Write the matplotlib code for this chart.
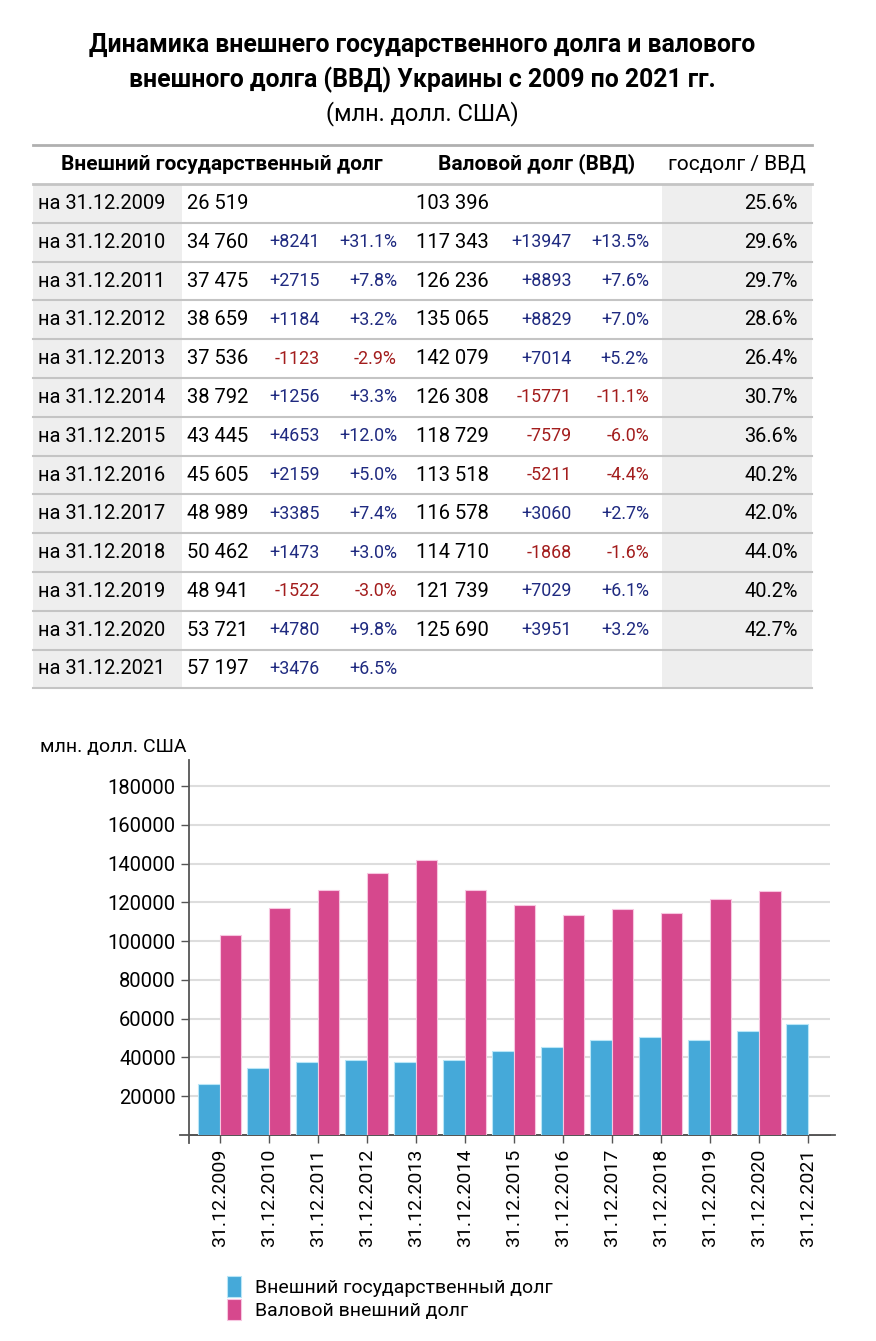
import matplotlib.pyplot as plt
from matplotlib.patches import Rectangle
import numpy as np

plt.rcParams['font.family'] = ['Roboto', 'DejaVu Sans']

dates = ["31.12.2009", "31.12.2010", "31.12.2011", "31.12.2012", "31.12.2013",
         "31.12.2014", "31.12.2015", "31.12.2016", "31.12.2017", "31.12.2018",
         "31.12.2019", "31.12.2020", "31.12.2021"]
gov_debt = [26519, 34760, 37475, 38659, 37536, 38792, 43445, 45605, 48989,
            50462, 48941, 53721, 57197]
gov_change = [None, 8241, 2715, 1184, -1123, 1256, 4653, 2159, 3385, 1473,
              -1522, 4780, 3476]
gov_change_pct = [None, 31.1, 7.8, 3.2, -2.9, 3.3, 12.0, 5.0, 7.4, 3.0,
                  -3.0, 9.8, 6.5]
gross_debt = [103396, 117343, 126236, 135065, 142079, 126308, 118729, 113518,
              116578, 114710, 121739, 125690, None]
gross_change = [None, 13947, 8893, 8829, 7014, -15771, -7579, -5211, 3060,
                -1868, 7029, 3951, None]
gross_change_pct = [None, 13.5, 7.6, 7.0, 5.2, -11.1, -6.0, -4.4, 2.7, -1.6,
                    6.1, 3.2, None]
ratio = [25.6, 29.6, 29.7, 28.6, 26.4, 30.7, 36.6, 40.2, 42.0, 44.0, 40.2,
         42.7, None]

blue = "#45a9d9"
pink = "#d6488d"
pos_col = "#1f2a80"
neg_col = "#a31d1d"

W, H = 876, 1341
fig = plt.figure(figsize=(W / 100, H / 100), dpi=100)

# overlay in pixel coords for title and table
bg = fig.add_axes([0, 0, 1, 1])
bg.set_xlim(0, W)
bg.set_ylim(H, 0)
bg.axis("off")

bg.text(422, 45, "Динамика внешнего государственного долга и валового",
        ha="center", va="center", fontsize=17.8, fontweight="bold")
bg.text(422, 80, "внешного долга (ВВД) Украины с 2009 по 2021 гг.",
        ha="center", va="center", fontsize=17.8, fontweight="bold")
bg.text(422, 114, "(млн. долл. США)", ha="center", va="center", fontsize=17)

# table
x0, x1 = 33, 812
row_top = 184
row_h = 38.8
n = len(dates)

bg.plot([x0, x1], [145, 145], color="#b0b0b0", lw=2)
bg.text(222, 164, "Внешний государственный долг", ha="center", va="center",
        fontsize=15, fontweight="bold")
bg.text(537, 164, "Валовой долг (ВВД)", ha="center", va="center",
        fontsize=15, fontweight="bold")
bg.text(737, 164, "госдолг / ВВД", ha="center", va="center", fontsize=15)

for i in range(n):
    top = row_top + i * row_h
    yc = top + row_h / 2
    bg.add_patch(Rectangle((x0, top), 182 - x0, row_h, color="#eeeeee", lw=0))
    bg.add_patch(Rectangle((662, top), x1 - 662, row_h, color="#eeeeee", lw=0))
    bg.text(38, yc, "на " + dates[i], ha="left", va="center", fontsize=14.4)
    bg.text(187, yc, f"{gov_debt[i]:,}".replace(",", " "), ha="left",
            va="center", fontsize=14.5)
    if gov_change[i] is not None:
        c = pos_col if gov_change[i] > 0 else neg_col
        bg.text(320, yc, f"{gov_change[i]:+d}", ha="right", va="center",
                fontsize=12.9, color=c)
        bg.text(397, yc, f"{gov_change_pct[i]:+.1f}%", ha="right",
                va="center", fontsize=12.9, color=c)
    if gross_debt[i] is not None:
        bg.text(416, yc, f"{gross_debt[i]:,}".replace(",", " "), ha="left",
                va="center", fontsize=14.5)
    if gross_change[i] is not None:
        c = pos_col if gross_change[i] > 0 else neg_col
        bg.text(572, yc, f"{gross_change[i]:+d}", ha="right", va="center",
                fontsize=12.9, color=c)
        bg.text(649, yc, f"{gross_change_pct[i]:+.1f}%", ha="right",
                va="center", fontsize=12.9, color=c)
    if ratio[i] is not None:
        bg.text(798, yc, f"{ratio[i]:.1f}%", ha="right", va="center",
                fontsize=14.4)

for i in range(n + 1):
    y = row_top + i * row_h
    lw = 2 if i == 0 else 1.5
    bg.plot([x0, x1], [y, y], color="#c4c4c4", lw=lw)

# bar chart
ax = fig.add_axes([189 / W, 1 - 1135 / H, (830 - 189) / W, (1135 - 760) / H])
x = np.arange(n)
w = 0.44
gross_vals = [v if v is not None else 0 for v in gross_debt]
ax.bar(x - w / 2, gov_debt, w, color=blue, edgecolor="#b9e6f7", lw=0.8,
       label="Внешний государственный долг", zorder=3)
ax.bar(x + w / 2, gross_vals, w, color=pink, edgecolor="#f7c6e0", lw=0.8,
       label="Валовой внешний долг", zorder=3)

ax.set_xlim(-0.63, 12.45)
ax.set_ylim(0, 193500)
ax.set_yticks(range(20000, 180001, 20000))
ax.set_yticklabels([str(v) for v in range(20000, 180001, 20000)],
                   fontsize=14.5)
ax.set_xticks(x)
ax.set_xticklabels(dates, rotation=90, fontsize=14)
ax.yaxis.grid(True, color="#dddddd", lw=1.5, zorder=0)
for s in ["top", "right"]:
    ax.spines[s].set_visible(False)
ax.spines["left"].set_color("#555555")
ax.spines["bottom"].set_color("#555555")
ax.spines["left"].set_linewidth(1.3)
ax.spines["bottom"].set_linewidth(1.3)
ax.tick_params(axis="both", color="#555555", length=6, width=1)
ax.tick_params(axis="x", pad=4)
ax.plot([-0.014, 1.008], [0, 0], transform=ax.transAxes, color="#555555",
        lw=1.3, clip_on=False)
ax.plot([0, 0], [0, -0.02], transform=ax.transAxes, color="#555555",
        lw=1.3, clip_on=False)

fig.text(40 / W, 1 - 747 / H, "млн. долл. США", ha="left", va="center",
         fontsize=14)

handles, labels = ax.get_legend_handles_labels()
fig.legend(handles, labels, loc="upper left",
           bbox_to_anchor=(209 / W, 1 - 1258 / H), frameon=False,
           fontsize=14, handlelength=0.75, handleheight=1.3,
           handletextpad=0.7, labelspacing=0.1)

fig.savefig("out.png", dpi=100)
